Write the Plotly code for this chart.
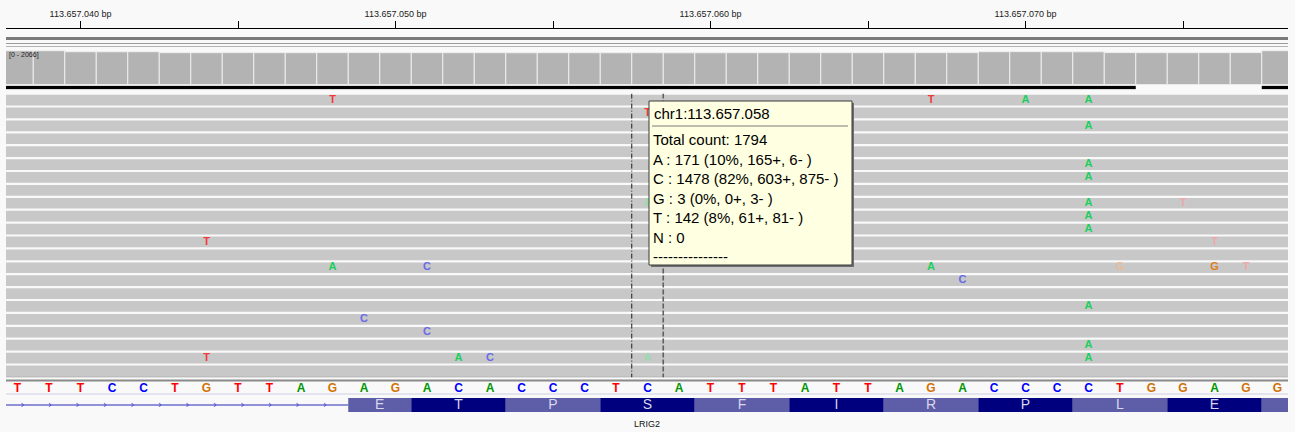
import plotly.graph_objects as go
import numpy as np

W, H = 1295, 432

# ---------------- data ----------------
ruler_ticks = [40, 50, 60, 70]
ruler_labels = ["113.657.040 bp", "113.657.050 bp", "113.657.060 bp", "113.657.070 bp"]
ruler_minor = [45, 55, 65, 75]

positions = list(range(38, 79))          # genomic offset (113.657.0xx)
ref_seq = list("TTTCCTGTTAGAGACACCCTCATTTATTAGACCCCTGGAGG")

coverage = [1908, 1906, 1851, 1849, 1852,            # 38-42
            1798, 1796, 1800, 1797, 1795, 1799, 1801, 1796, 1798,  # 43-51
            1795, 1797, 1793, 1796, 1795, 1792, 1794, 1790, 1793,  # 52-60
            1795, 1797, 1796, 1798, 1794, 1797, 1799, 1800,        # 61-68
            1852, 1855, 1850, 1848,                                # 69-72
            1802, 1798, 1796, 1799, 1801,                          # 73-77
            1906]                                                  # 78
coverage_range = "[0 - 2066]"
coverage_max = 2066

downsampled_start = [37.0, 77.5]
downsampled_end = [73.5, 79.0]

read_rows = list(range(22))
read_start = [12, 20, 5, 31, 18, 9, 27, 14, 3, 22, 30, 16, 8, 25, 11, 29, 6, 19, 24, 2, 15, 33]
read_end = [88, 95, 84, 101, 90, 86, 97, 92, 83, 99, 104, 91, 85, 96, 89, 100, 87, 93, 98, 82, 94, 102]

# mismatches inside reads: row, position, base, high quality?
mm_row = [0, 0, 0, 0, 1, 2, 5, 6, 8, 8, 8, 9, 10, 11, 11,
          13, 13, 13, 13, 13, 13, 14, 16, 17, 18, 19, 20, 20, 20, 20, 20]
mm_pos = [48, 67, 70, 72, 58, 72, 72, 72, 58, 72, 75, 72, 72, 44, 76,
          48, 51, 67, 73, 76, 77, 68, 72, 49, 51, 72, 44, 52, 53, 58, 72]
mm_base = ["T", "T", "A", "A", "T", "A", "A", "A", "A", "A", "T", "A", "A", "T", "T",
           "A", "C", "A", "G", "G", "T", "C", "A", "C", "C", "A", "T", "A", "C", "A", "A"]
mm_hq = [1, 1, 1, 1, 1, 1, 1, 1, 0, 1, 0, 1, 1, 1, 0,
         1, 1, 1, 0, 1, 0, 1, 1, 1, 1, 1, 1, 1, 1, 0, 1]

center_base = 58

# gene LRIG2
gene_name = "LRIG2"
intron_start, intron_end = 20.0, 48.5
codon_aa = ["E", "T", "P", "S", "F", "I", "R", "P", "L", "E", ""]
codon_start = [48.5, 50.5, 53.5, 56.5, 59.5, 62.5, 65.5, 68.5, 71.5, 74.5, 77.5]
codon_end = [50.5, 53.5, 56.5, 59.5, 62.5, 65.5, 68.5, 71.5, 74.5, 77.5, 80.5]

popup_title = "chr1:113.657.058"
popup_lines = ["Total count: 1794",
               "A : 171 (10%, 165+, 6- )",
               "C : 1478 (82%, 603+, 875- )",
               "G : 3 (0%, 0+, 3- )",
               "T : 142 (8%, 61+, 81- )",
               "N : 0",
               "---------------"]

# ---------------- styling / layout helpers ----------------
PXBP = 31.5
X_LEFT, X_RIGHT = 6, 1288


def pos_at(px):
    return 38 + (px - 17.5) / PXBP


def py(px):
    return 1 - px / H


def fx(px):
    return px / W


seq_colors = {"A": "#009600", "C": "#0000ff", "G": "#d17105", "T": "#ff0000"}
mm_hi = {"A": "#1ccf5c", "C": "#6a6ae8", "G": "#de7f22", "T": "#f23a3a"}
mm_lo = {"A": "#96dcae", "C": "#b4b4ec", "G": "#e6bc98", "T": "#eea8a8"}

fig = go.Figure()

# coverage
fig.add_trace(go.Bar(x=positions, y=coverage, width=1,
                     marker=dict(color="#b3b3b3", line=dict(color="#eeeeee", width=1)),
                     yaxis="y", hoverinfo="skip"))

# downsampled intervals
for s, e in zip(downsampled_start, downsampled_end):
    fig.add_trace(go.Scatter(x=[s, e], y=[0.5, 0.5], mode="lines",
                             line=dict(color="black", width=3.5), yaxis="y2", hoverinfo="skip"))

# reads
fig.add_trace(go.Bar(orientation="h", y=read_rows, base=read_start,
                     x=[e - s for s, e in zip(read_start, read_end)], width=0.83,
                     marker=dict(color="#c8c8c8", line=dict(width=0)),
                     yaxis="y3", hoverinfo="skip"))

# mismatches
fig.add_trace(go.Scatter(x=mm_pos, y=mm_row, text=mm_base, mode="text",
                         textfont=dict(family="Liberation Sans", size=11, weight="bold",
                                       color=[(mm_hi if q else mm_lo)[b] for b, q in zip(mm_base, mm_hq)]),
                         yaxis="y3", hoverinfo="skip"))

# center lines
fig.add_trace(go.Scatter(x=[center_base - 0.5] * 2, y=[-0.5, 21.5], mode="lines",
                         line=dict(color="#1e1e1e", width=1, dash="5px,2px,1px,2px"),
                         yaxis="y3", hoverinfo="skip"))
fig.add_trace(go.Scatter(x=[center_base + 0.5] * 2, y=[-0.5, 21.5], mode="lines",
                         line=dict(color="#606060", width=1.6, dash="5px,2px"),
                         yaxis="y3", hoverinfo="skip"))

# reference sequence
fig.add_trace(go.Scatter(x=positions, y=[0.5] * len(positions), text=ref_seq, mode="text",
                         textfont=dict(family="Liberation Sans", size=12, weight="bold",
                                       color=[seq_colors[b] for b in ref_seq]),
                         yaxis="y4", hoverinfo="skip"))

# gene: intron line + arrows
fig.add_trace(go.Scatter(x=[intron_start, intron_end], y=[0.5, 0.5], mode="lines",
                         line=dict(color="#2a2ab8", width=1.2), yaxis="y5", hoverinfo="skip"))
arrow_x = np.arange(intron_end - 0.74, pos_at(X_LEFT), -27.5 / PXBP)
fig.add_trace(go.Scatter(x=arrow_x, y=[0.5] * len(arrow_x), mode="text", text=["›"] * len(arrow_x),
                         textfont=dict(family="DejaVu Sans", size=10, color="#4040d0"),
                         yaxis="y5", hoverinfo="skip"))

# codons
codon_colors = ["#5d5da8" if i % 2 == 0 else "#00007e" for i in range(len(codon_aa))]
fig.add_trace(go.Bar(orientation="h", y=[0.5] * len(codon_aa), base=codon_start,
                     x=[e - s for s, e in zip(codon_start, codon_end)], width=0.78,
                     marker=dict(color=codon_colors, line=dict(width=0)),
                     yaxis="y5", hoverinfo="skip"))
fig.add_trace(go.Scatter(x=[(s + e) / 2 for s, e in zip(codon_start, codon_end)],
                         y=[0.5] * len(codon_aa), text=codon_aa, mode="text",
                         textfont=dict(family="Liberation Sans", size=14, color="#d8d8ea"),
                         yaxis="y5", hoverinfo="skip"))

xr = [pos_at(X_LEFT), pos_at(X_RIGHT)]
hidden = dict(visible=False, showgrid=False, zeroline=False, fixedrange=True)

fig.update_layout(
    width=W, height=H, margin=dict(l=0, r=0, t=0, b=0),
    paper_bgcolor="#f9f9f9", plot_bgcolor="rgba(0,0,0,0)",
    showlegend=False, barmode="overlay",
    xaxis=dict(domain=[fx(X_LEFT), fx(X_RIGHT)], range=xr, side="top", anchor="free",
               position=py(28), showgrid=False, zeroline=False,
               showline=True, linecolor="#000000", linewidth=1,
               ticks="outside", ticklen=7, tickwidth=1, tickcolor="#000000",
               tickvals=ruler_ticks, ticktext=ruler_labels,
               tickfont=dict(family="Liberation Sans", size=9, color="#222222"),
               minor=dict(tickvals=ruler_minor, ticks="outside", ticklen=7, tickcolor="#000000", tickwidth=1)),
    yaxis=dict(domain=[py(84.5), py(47.9)], range=[0, coverage_max], anchor="x", **hidden),
    yaxis2=dict(domain=[py(89.5), py(85.5)], range=[0, 1], anchor="x", **hidden),
    yaxis3=dict(domain=[py(377.4), py(93.6)], range=[21.5, -0.5], anchor="x", **hidden),
    yaxis4=dict(domain=[py(396), py(382)], range=[0, 1], anchor="x", **hidden),
    yaxis5=dict(domain=[py(414), py(396)], range=[0, 1], anchor="x", **hidden),
)

shapes = []


def hline(y, color, width):
    shapes.append(dict(type="line", xref="paper", yref="paper", x0=fx(X_LEFT), x1=fx(X_RIGHT),
                       y0=py(y), y1=py(y), line=dict(color=color, width=width), layer="below"))


hline(38.5, "#7a7a7a", 3)
hline(43.5, "#9c9c9c", 1)
hline(46.5, "#b4b4b4", 1)
hline(376.8, "#a0a0a0", 1)
hline(380.5, "#8a8a8a", 2)
hline(394, "#cfcfe6", 1)

# popup box
shapes.append(dict(type="rect", xref="paper", yref="paper", x0=fx(651), x1=fx(854), y0=py(267), y1=py(103),
                   fillcolor="#6e6e6e", line=dict(width=0), layer="above"))
shapes.append(dict(type="rect", xref="paper", yref="paper", x0=fx(649), x1=fx(852), y0=py(265), y1=py(101),
                   fillcolor="#ffffe1", line=dict(color="#3a3a3a", width=1), layer="above"))
shapes.append(dict(type="line", xref="paper", yref="paper", x0=fx(652), x1=fx(848), y0=py(126), y1=py(126),
                   line=dict(color="#7a7a7a", width=1), layer="above"))
fig.update_layout(shapes=shapes)

annotations = [
    dict(text=coverage_range, xref="paper", yref="paper", x=fx(7), y=py(54.5), xanchor="left",
         yanchor="middle", showarrow=False, font=dict(family="Liberation Sans", size=7, color="#222222")),
    dict(text=gene_name, xref="x", yref="paper", x=sum(xr) / 2, y=py(424), xanchor="center",
         yanchor="middle", showarrow=False, font=dict(family="Liberation Sans", size=9, color="#111111")),
    dict(text=popup_title, xref="paper", yref="paper", x=fx(652), y=py(113), xanchor="left",
         yanchor="middle", showarrow=False, font=dict(family="Liberation Sans", size=15, color="#000000")),
    dict(text="<br>".join(popup_lines), xref="paper", yref="paper", x=fx(652), y=py(129.5), xanchor="left",
         yanchor="top", align="left", showarrow=False, borderpad=0,
         font=dict(family="Liberation Sans", size=15, color="#000000")),
]
fig.update_layout(annotations=annotations)

fig.write_html("out.html", config={"displayModeBar": False, "staticPlot": True},
               post_script="document.body.style.margin='0';document.body.style.overflow='hidden';")
